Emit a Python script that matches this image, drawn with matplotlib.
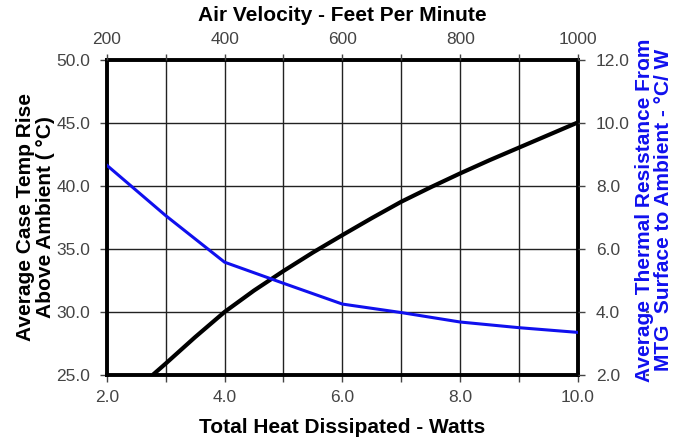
import matplotlib
matplotlib.use("Agg")
import matplotlib.pyplot as plt
from matplotlib.ticker import MultipleLocator, FormatStrFormatter

plt.rcParams['font.family'] = ['Liberation Sans', 'DejaVu Sans']

# Temperature rise vs total heat dissipated
watts = [2.78, 3.0, 3.5, 4.0, 4.5, 5.0, 5.5, 6.0, 6.5, 7.0, 7.5, 8.0, 8.5, 9.0, 9.5, 10.0]
temp_rise = [25.0, 25.9, 28.0, 30.0, 31.7, 33.25, 34.72, 36.1, 37.45, 38.75, 39.9, 41.0, 42.05, 43.05, 44.05, 45.05]

# Thermal resistance vs air velocity
velocity = [200, 300, 400, 500, 600, 700, 800, 900, 1000]
resistance = [8.66, 7.06, 5.58, 4.91, 4.25, 3.98, 3.68, 3.50, 3.35]

bottom_ticks = [2.0, 4.0, 6.0, 8.0, 10.0]
top_ticks = [200, 400, 600, 800, 1000]
left_ticks = [25.0, 30.0, 35.0, 40.0, 45.0, 50.0]
right_ticks = [2.0, 4.0, 6.0, 8.0, 10.0, 12.0]

BLUE = '#1010ee'
fig = plt.figure(figsize=(6.8, 4.38), dpi=100)
pos = [0.157, 0.144, 0.693, 0.719]
ax = fig.add_axes(pos)
ax.set_xlim(2.0, 10.0)
ax.set_ylim(25.0, 50.0)
ax.set_xticks(bottom_ticks)
ax.xaxis.set_minor_locator(MultipleLocator(1.0))
ax.set_yticks(left_ticks)
ax.xaxis.set_major_formatter(FormatStrFormatter('%.1f'))
ax.yaxis.set_major_formatter(FormatStrFormatter('%.1f'))
ax.grid(True, which='both', axis='x', color='#222222', lw=1.0)
ax.grid(True, which='major', axis='y', color='#222222', lw=1.0)
ax.tick_params(axis='both', which='both', direction='out', length=5, width=1,
               labelsize=12.5, labelcolor='#444444', color='#444444')
ax.tick_params(axis='x', pad=6)
ax.tick_params(axis='y', pad=7)
for s in ax.spines.values():
    s.set_linewidth(2.8)
    s.set_color('black')
ax.plot(watts, temp_rise, color='black', lw=3.0, solid_capstyle='butt',
        solid_joinstyle='round', zorder=5)
ax.set_xlabel('Total Heat Dissipated - Watts', fontsize=15, fontweight='bold', labelpad=9)
ax.set_ylabel('Average Case Temp Rise\nAbove Ambient ( \u00b0C)', fontsize=15,
              fontweight='bold', labelpad=1, linespacing=1.05)

ax2 = fig.add_axes(pos, frameon=False)
ax2.patch.set_alpha(0)
ax2.set_xlim(200, 1000)
ax2.set_ylim(2.0, 12.0)
ax2.xaxis.tick_top()
ax2.xaxis.set_label_position('top')
ax2.yaxis.tick_right()
ax2.set_xticks(top_ticks)
ax2.xaxis.set_minor_locator(MultipleLocator(100))
ax2.set_yticks(right_ticks)
ax2.yaxis.set_major_formatter(FormatStrFormatter('%.1f'))
ax2.tick_params(axis='both', which='both', direction='out', length=4, width=1,
                labelsize=12.5, labelcolor='#444444', color='#444444')
ax2.tick_params(axis='x', pad=5.5)
ax2.tick_params(axis='y', length=5, pad=8)
ax2.plot(velocity, resistance, color=BLUE, lw=2.2, solid_joinstyle='round', zorder=4)
ax2.set_xlabel('Air Velocity - Feet Per Minute', fontsize=15, fontweight='bold', labelpad=7.5)

# small tick dots to the right of the right-hand labels
ax3 = fig.add_axes(pos, frameon=False)
ax3.patch.set_alpha(0)
ax3.set_ylim(2.0, 12.0)
ax3.set_xticks([])
ax3.yaxis.tick_right()
ax3.set_yticks(right_ticks)
ax3.spines['right'].set_position(('outward', 49))
ax3.tick_params(axis='y', direction='out', length=2, width=1.5, color='#666666',
                labelright=False)

fig.text(654 / 680, 1 - 210 / 438,
         'Average Thermal Resistance From\nMTG  Surface to Ambient - \u00b0C/ W',
         fontsize=15, fontweight='bold', color=BLUE, rotation=90,
         ha='center', va='center', multialignment='center', linespacing=1.05)

fig.savefig('out.png', dpi=100)
